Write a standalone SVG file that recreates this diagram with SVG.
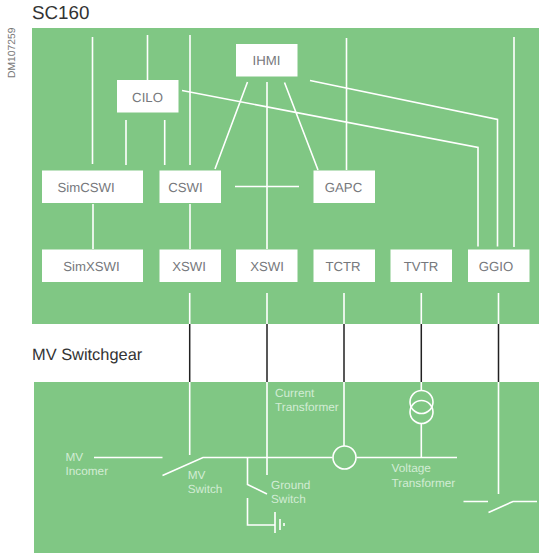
<svg xmlns="http://www.w3.org/2000/svg" width="539" height="553" viewBox="0 0 539 553" text-rendering="geometricPrecision">
<defs><style>
.bg{fill:#80c784}
.box{fill:#fff}
.bl{font-family:"Liberation Sans",Arial,sans-serif;font-size:13.2px;fill:#76787c;text-anchor:middle}
.wl{font-family:"Liberation Sans",Arial,sans-serif;font-size:11.8px;fill:#d2ecd4}
.tt{font-family:"Liberation Sans",Arial,sans-serif;fill:#333}
.w{stroke:#fff;stroke-width:1.6;fill:none}
.k{stroke:#222;stroke-width:1.5;fill:none}
</style></defs>
<rect width="539" height="553" fill="#fff"/>
<rect class="bg" x="32" y="28" width="507" height="296"/>
<rect class="bg" x="34" y="382" width="505" height="171"/>
<text class="tt" x="32" y="19" font-size="18.8">SC160</text>
<text class="tt" x="32" y="360" font-size="16.4">MV Switchgear</text>
<text x="15" y="78" transform="rotate(-90 15 78)" font-family="'Liberation Sans',Arial,sans-serif" font-size="10.3" fill="#777">DM107259</text>
<g id="connectors">
<path class="w" d="M92.500 37V164M147.500 35V80M190 35V165M126 120V165M164.700 120V165M247.500 82L215 169M267 82V249M235 186.500H299M284.500 82.500L318 170M346.500 38V170M182 90.500L478 147.500V246.500M310 80.500L497.500 119.500V246.500M514 37V247M93 204V249M190 204V249"/>
<path class="w" d="M189.700 293V324M267 293V324M344 293V324M421.300 293V324M498.500 293V324"/>
<path class="k" d="M189.700 324V382M267 324V382M344 324V382M421.300 324V382M498.500 324V382"/>
<path class="w" d="M189.700 382V455M267 382V475M344 382V446M421.300 382V390.500M421.300 423.500V457.500M498.500 382V494"/>
<path class="w" d="M94 457.500H162.500M162.500 475.500L203 457.500H332.500M356.500 457.500H457M247.500 457.500V484.500L267 494M247.500 498V525H275M275 512V533M280 519V530M284 523V526"/>
<path class="w" d="M463.500 501.500H488M488.500 512.500L513 501.500H537"/>
<circle class="w" cx="344.500" cy="457.500" r="11.500"/>
<circle class="w" cx="421.500" cy="402" r="11.500"/>
<circle class="w" cx="421.500" cy="412" r="11.500"/>
</g>
<g id="IHMI"><rect class="box" x="236" y="44" width="61.500" height="32.500"/><text class="bl" x="266.500" y="65">IHMI</text></g>
<g id="CILO"><rect class="box" x="117" y="80" width="61.500" height="32.500"/><text class="bl" x="147.500" y="102">CILO</text></g>
<g id="SimCSWI"><rect class="box" x="42" y="170.500" width="101" height="32.500"/><text class="bl" x="86" y="192">SimCSWI</text></g>
<g id="CSWI"><rect class="box" x="159.500" y="170.500" width="61.500" height="32.500"/><text class="bl" x="185.500" y="192">CSWI</text></g>
<g id="GAPC"><rect class="box" x="313.500" y="170.500" width="61.500" height="32.500"/><text class="bl" x="343.500" y="192">GAPC</text></g>
<g id="SimXSWI"><rect class="box" x="42" y="249.500" width="101" height="32.500"/><text class="bl" x="91.500" y="271">SimXSWI</text></g>
<g id="XSWI1"><rect class="box" x="159.500" y="249.500" width="61.500" height="32.500"/><text class="bl" x="189" y="271">XSWI</text></g>
<g id="XSWI2"><rect class="box" x="236" y="249.500" width="61.500" height="32.500"/><text class="bl" x="267" y="271">XSWI</text></g>
<g id="TCTR"><rect class="box" x="313.500" y="249.500" width="61.500" height="32.500"/><text class="bl" x="343" y="271">TCTR</text></g>
<g id="TVTR"><rect class="box" x="390.500" y="249.500" width="61.500" height="32.500"/><text class="bl" x="421" y="271">TVTR</text></g>
<g id="GGIO"><rect class="box" x="468" y="249.500" width="61.500" height="32.500"/><text class="bl" x="496" y="271">GGIO</text></g>
<g id="labels">
<text class="wl"><tspan x="65.500" y="461">MV</tspan><tspan x="65.500" y="475">Incomer</tspan></text>
<text class="wl"><tspan x="187.700" y="479">MV</tspan><tspan x="187.700" y="493">Switch</tspan></text>
<text class="wl"><tspan x="271" y="489">Ground</tspan><tspan x="271" y="503">Switch</tspan></text>
<text class="wl"><tspan x="275" y="397">Current</tspan><tspan x="275" y="411">Transformer</tspan></text>
<text class="wl"><tspan x="391.500" y="472">Voltage</tspan><tspan x="391.500" y="487">Transformer</tspan></text>
</g>
</svg>
